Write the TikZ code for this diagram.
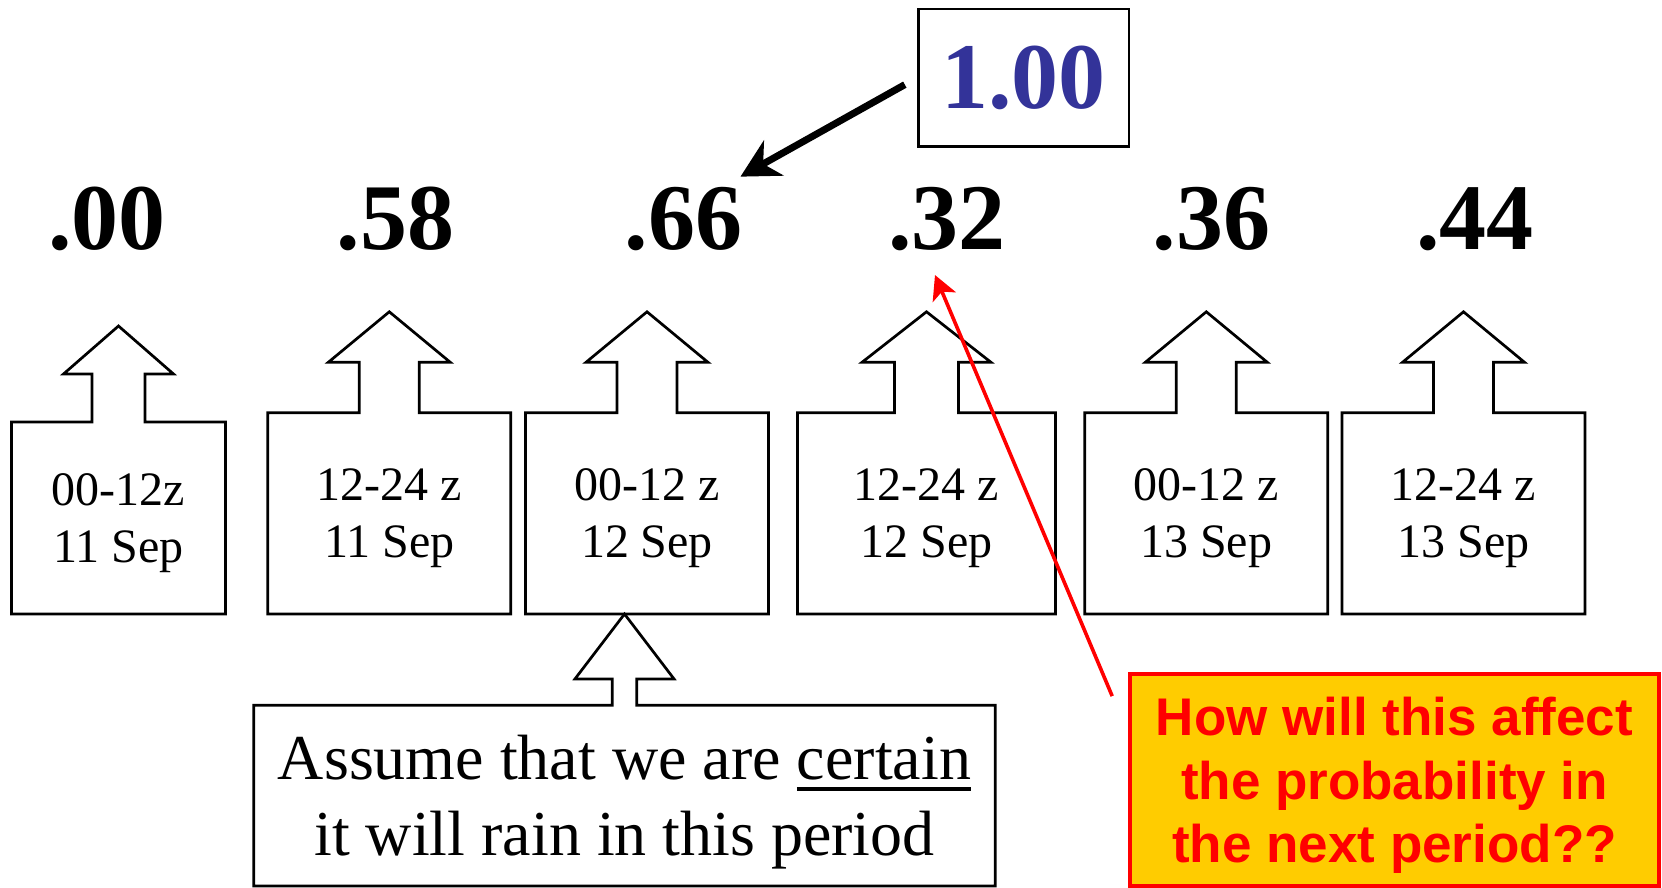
\documentclass[tikz,border=0pt]{standalone}
\usepackage{fontspec}
\setmainfont{Liberation Serif}
\newfontfamily\askfont{Liberation Sans}
\usetikzlibrary{
    arrows.meta,
    positioning,
    calc
}
\definecolor{probblue}{HTML}{333399}
\definecolor{askgold}{HTML}{FFCC00}
\definecolor{askred}{HTML}{FF0000}
% thick underline for one word
\newcommand{\thickul}[1]{\setbox0\hbox{#1}\rlap{\rule[-5.5pt]{\wd0}{1.7pt}}\box0}
\tikzset{
    % --- Forecast period box (outline drawn with its arrow) ---
    period/.style = {
        rectangle, inner sep=0pt, outer sep=0pt,
        minimum width=121.5pt, minimum height=100.6pt,
        align=center, text depth=0pt,
        font=\fontsize{24}{28.5}\selectfont
    },
    % --- Probability value above a period ---
    prob/.style = {
        inner sep=0pt, anchor=base,
        font=\fontsize{47}{47}\selectfont\bfseries
    },
    % --- Boxed certain value ---
    value box/.style = {
        rectangle, draw, line width=1.35pt, inner sep=0pt,
        minimum width=105.3pt, minimum height=68.8pt,
        text=probblue, font=\fontsize{47}{47}\selectfont\bfseries
    },
    % --- Box + block arrow outline ---
    outline/.style = {
        line width=1.35pt, line join=miter
    },
    % --- Assumption note under a period ---
    note/.style = {
        rectangle, inner sep=0pt, outer sep=0pt,
        minimum width=370.7pt, minimum height=90.4pt,
        align=center, text depth=-2pt,
        font=\fontsize{32}{38}\selectfont
    },
    % --- Question box ---
    ask/.style = {
        rectangle, draw=askred, fill=askgold, line width=2.2pt,
        minimum width=264.5pt, minimum height=106pt,
        align=center, text=askred, text depth=0pt,
        font=\askfont\bfseries\fontsize{26.5}{31.8}\selectfont
    },
    % --- Black pointer from value ---
    value arrow/.style = {
        -{Stealth[length=19pt, width=20pt, inset=6pt]}, line width=3.5pt
    },
    % --- Red pointer from question ---
    ask arrow/.style = {
        -{Stealth[length=12pt, width=12.5pt, inset=3pt]}, line width=1.8pt, askred
    }
}

\begin{document}
\begin{tikzpicture}[x=0.5pt, y=-0.5pt]
\useasboundingbox (0,0) rectangle (1662,888);

% ---------------------------------------------------------
% Probabilities
% ---------------------------------------------------------
\node[prob] (v1) at (107,249.3)    {.00};
\node[prob] (v2) at (395.3,249.3)  {.58};
\node[prob] (v3) at (683.3,249.3)  {.66};
\node[prob] (v4) at (947,249.3)    {.32};
\node[prob] (v5) at (1211.3,249.3) {.36};
\node[prob] (v6) at (1475.2,249.3) {.44};

% ---------------------------------------------------------
% Forecast periods
% ---------------------------------------------------------
\node[period, minimum width=107pt, minimum height=96pt] (p1) at (118.5,518) {00-12z\\11 Sep};
\node[period] (p2) at (389.3,513.4) {12-24 z\\11 Sep};
\node[period] (p3) at (647,513.4)   {00-12 z\\12 Sep};
\node[period, minimum width=129pt] (p4) at (926.5,513.4) {12-24 z\\12 Sep};
\node[period] (p5) at (1206.3,513.4) {00-12 z\\13 Sep};
\node[period] (p6) at (1463.5,513.4) {12-24 z\\13 Sep};

% box outline with block arrow pointing up
\foreach \b/\s/\w/\h in {p1/26.5/55/48, p2/30/61/50.5, p3/30/61/50.5,
                         p4/32/64.5/50.5, p5/30/61/50.5, p6/30/61/50.5}
    \draw[outline] (\b.south west) -- (\b.north west)
        -- ($(\b.north)+(-\s,0)$) -- ($(\b.north)+(-\s,-\h)$)
        -- ($(\b.north)+(-\w,-\h)$) -- ($(\b.north)+(0,-2*\h)$)
        -- ($(\b.north)+(\w,-\h)$) -- ($(\b.north)+(\s,-\h)$)
        -- ($(\b.north)+(\s,0)$) -- (\b.north east)
        -- (\b.south east) -- cycle;

% ---------------------------------------------------------
% Certain value
% ---------------------------------------------------------
\node[value box] (one) at (1023.7,77.8) {1.00};
\draw[value arrow, shorten <=7pt] (one.west) -- ($(v3.north east)+(-2,-10)$);

% ---------------------------------------------------------
% Assumption note
% ---------------------------------------------------------
\node[note] (cert) at (624.5,795.6) {Assume that we are \thickul{certain}\\it will rain in this period};
\draw[outline] (cert.south west) -- (cert.north west)
    -- ($(cert.north)+(-12.2,0)$) -- ($(cert.north)+(-12.2,-26.3)$)
    -- ($(cert.north)+(-49.5,-26.3)$) -- (cert.north |- p3.south)
    -- ($(cert.north)+(49.5,-26.3)$) -- ($(cert.north)+(12.2,-26.3)$)
    -- ($(cert.north)+(12.2,0)$) -- (cert.north east)
    -- (cert.south east) -- cycle;

% ---------------------------------------------------------
% Question
% ---------------------------------------------------------
\node[ask] (q) at (1394.5,780) {How will this affect\\the probability in\\the next period??};
\coordinate (qTail) at ($(q.north west)+(-15.6,24.3)$);
\coordinate (v4Tip) at ($(v4.south)+(-12,24)$);
\draw[ask arrow] (qTail) -- (v4Tip);

\end{tikzpicture}
\end{document}
